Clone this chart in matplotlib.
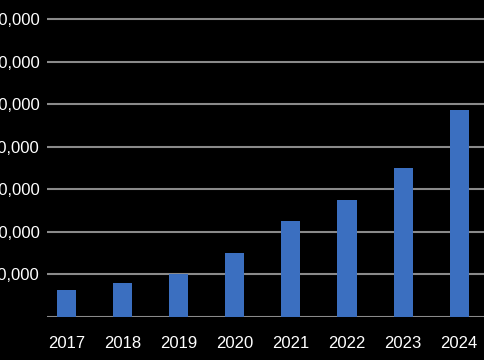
import matplotlib.pyplot as plt
import numpy as np

years = ['2017', '2018', '2019', '2020', '2021', '2022', '2023', '2024']
values = [6200, 8000, 10000, 15000, 22500, 27500, 35000, 48600]
yticks = [0, 10000, 20000, 30000, 40000, 50000, 60000, 70000]

plt.rcParams['font.family'] = ['Liberation Sans', 'DejaVu Sans']

fig = plt.figure(figsize=(4.85, 3.6), dpi=100, facecolor='black')
ax = fig.add_axes([0.0963, 0.1208, 0.9037, 0.8792])
ax.set_facecolor('black')

x = np.arange(len(years))
ax.bar(x, values, width=0.34, color='#3b6fc0', zorder=3)

ax.set_xlim(-0.353, 7.46)
ax.set_ylim(0, 74470)
ax.set_xticks(x)
ax.set_xticklabels(years)
ax.set_yticks(yticks)
ax.set_yticklabels(['' if v == 0 else f'{v:,}' for v in yticks])

ax.grid(axis='y', color='#8a8a8a', linewidth=1.5, zorder=0)
ax.set_axisbelow(True)
for s in ax.spines.values():
    s.set_visible(False)
ax.tick_params(axis='x', length=0, pad=14, colors='white', labelsize=12)
ax.tick_params(axis='y', length=0, pad=5, colors='white', labelsize=12)

fig.savefig('out.png', dpi=100, facecolor='black')
